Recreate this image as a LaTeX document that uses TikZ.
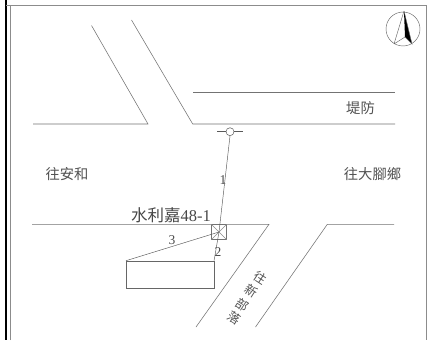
\documentclass[tikz,border=0pt]{standalone}
\usepackage{fontspec}
\newfontfamily\cjk{Noto Sans CJK TC}
\setmainfont{Liberation Serif}
\tikzset{
  road/.style={draw=black!55,line width=0.55pt},
  thin line/.style={draw=black!65,line width=0.45pt},
  lbl/.style={inner sep=0pt,text=black!68,font=\cjk\fontsize{14.3}{15}\selectfont},
  num/.style={inner sep=0pt,text=black!70,font=\fontsize{13.5}{14}\selectfont}
}
\begin{document}
\begin{tikzpicture}[x=1pt,y=-1pt]
\useasboundingbox (0,0) rectangle (428,340);
\fill[white] (0,0) rectangle (428,340);
% frame
\draw[black,line width=1.6pt] (5.8,0) -- (5.8,340);
\draw[black!45,line width=0.9pt] (10.5,340) -- (10.5,5.5);
\draw[black!45,line width=0.9pt] (6,5.5) -- (426,5.5) -- (426,340);
% roads
\draw[road] (91.5,25.5) -- (148,124) -- (33,124);
\draw[road] (131.5,20) -- (192.7,124) -- (395,124);
\draw[road] (193,92) -- (395,92);
\draw[road] (32,224.3) -- (269,224.3) -- (196,327);
\draw[road] (394,224.3) -- (327.3,224.3) -- (255.5,327);
% north arrow
\node[draw=black!60,circle,minimum size=34pt,inner sep=0pt,line width=0.45pt] (compass) at (403,29) {};
\coordinate (ntip) at (404,11);
\coordinate (nm) at (405,37);
\coordinate (nr) at (412,44);
\coordinate (nb) at (394,44);
\fill[black] (ntip) -- (nm) -- (nr) -- cycle;
\draw[black!60,line width=0.45pt] (ntip) -- (nb) (nb) -- (nm) -- (nr) -- (ntip);
% pole
\node[draw=black!70,circle,minimum size=8pt,inner sep=0pt,line width=0.45pt] (pole) at (230,131.7) {};
\coordinate (pl) at (217,131.7);
\coordinate (pr) at (243,131.7);
\draw[thin line] (pl) -- (pole.west) (pole.east) -- (pr);
% house marker
\node[draw=black!55,minimum size=15pt,inner sep=0pt,line width=0.45pt] (mark) at (219,232) {};
\draw[draw=black!45,line width=0.4pt] (mark.north west) -- (mark.south east) (mark.north east) -- (mark.south west);
% building
\node[draw=black!60,minimum width=87.5pt,minimum height=27pt,inner sep=0pt,line width=0.55pt,anchor=north west] (bldg) at (126,260.7) {};
% connectors
\draw[thin line] (pole.south) -- (mark.center);
\draw[thin line] (mark.center) -- (bldg.north east);
\draw[thin line] (mark.center) -- (bldg.north west);
% labels
\node[lbl] (t1) at (67,174.5) {往安和};
\node[lbl] (t2) at (372.5,174.5) {往大腳鄉};
\node[lbl] (t3) at (360.5,108.5) {堤防};
\node[lbl,rotate=-33,align=center,font=\cjk\fontsize{12.5}{16}\selectfont] (t4) at (247,298) {往\\新\\部\\落};
\node[inner sep=0pt,text=black!72] (t5) at (171,215) {\fontsize{16.5}{17}\selectfont{\cjk 水利嘉}48-1};
\node[num] (n1) at (223,180) {1};
\node[num] (n2) at (218,252) {2};
\node[num] (n3) at (172,240) {3};
\end{tikzpicture}
\end{document}
